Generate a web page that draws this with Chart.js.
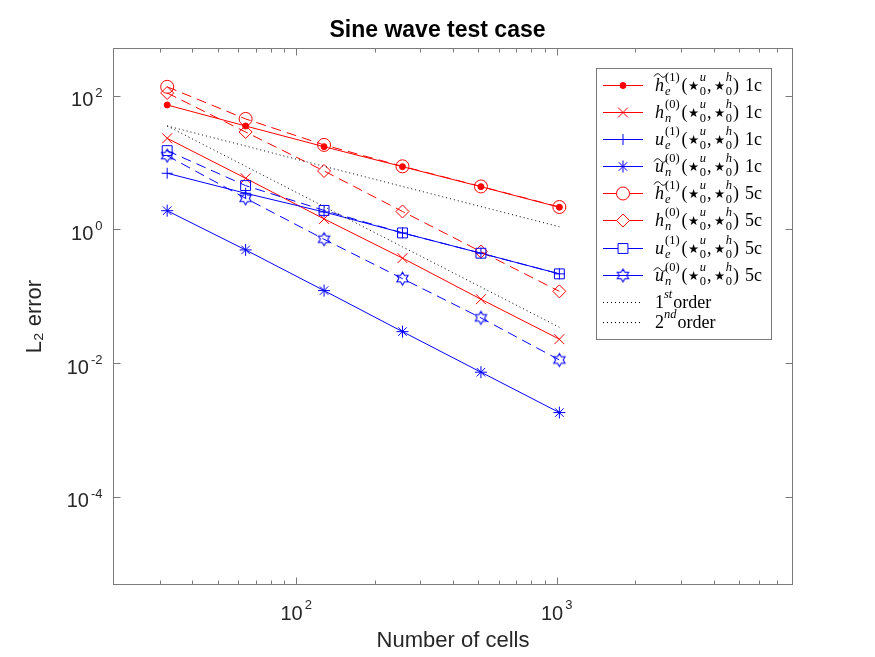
<!DOCTYPE html>
<html>
<head>
<meta charset="utf-8">
<title>Sine wave test case</title>
<script src="https://cdn.jsdelivr.net/npm/chart.js@4.4.0/dist/chart.umd.min.js"></script>
<style>
  html, body { margin: 0; padding: 0; background: #fff; }
</style>
</head>
<body>
<canvas id="graficoErro" width="875" height="657"></canvas>
<script>
// numero de celulas (eixo x)
var celulas = [32, 64, 128, 256, 512, 1024];

// erros L2
var hTilE1c = [72.8, 35.3, 17.3, 8.7, 4.37, 2.15];
var hN1c = [23.1, 5.84, 1.44, 0.373, 0.0907, 0.0229];
var uE1c = [6.93, 3.48, 1.83, 0.889, 0.442, 0.217];
var uTilN1c = [1.91, 0.495, 0.122, 0.0297, 0.00735, 0.00183];
var hTilE5c = [136, 45.0, 18.4, 8.8, 4.4, 2.17];
var hN5c = [110, 28.7, 7.5, 1.86, 0.467, 0.119];
var uE5c = [15.1, 4.53, 1.93, 0.889, 0.442, 0.217];
var uTilN5c = [12.7, 2.93, 0.715, 0.184, 0.0477, 0.0112];
var primeiraOrdem = [35.3, 17.7, 8.8, 4.4, 2.2, 1.1];
var segundaOrdem = [35.3, 8.8, 2.2, 0.55, 0.138, 0.0345];

// ticks e limites
var xTicks = [100, 1000];
var yTicks = [1e-4, 1e-2, 1, 100];
var xLimites = [20, 8000];
var yLimites = [5e-6, 500];

// descricao das legendas
var rotulos = [
  {base: 'h', til: true,  idx: 'e', ordem: '(1)', caso: '1c'},
  {base: 'h', til: false, idx: 'n', ordem: '(0)', caso: '1c'},
  {base: 'u', til: false, idx: 'e', ordem: '(1)', caso: '1c'},
  {base: 'u', til: true,  idx: 'n', ordem: '(0)', caso: '1c'},
  {base: 'h', til: true,  idx: 'e', ordem: '(1)', caso: '5c'},
  {base: 'h', til: false, idx: 'n', ordem: '(0)', caso: '5c'},
  {base: 'u', til: false, idx: 'e', ordem: '(1)', caso: '5c'},
  {base: 'u', til: true,  idx: 'n', ordem: '(0)', caso: '5c'},
  {num: '1', sup: 'st'},
  {num: '2', sup: 'nd'}
];

var VERMELHO = '#ff0000';
var AZUL = '#0000ff';
var EIXO = '#7a7a7a';
var SERIF = '"Liberation Serif", "DejaVu Serif", serif';
var SANS = '"Liberation Sans", Arial, Helvetica, sans-serif';

Chart.defaults.font.family = SANS;
Chart.defaults.color = '#262626';

function hexagrama(raio, cor) {
  var c = document.createElement('canvas');
  var tam = Math.ceil(raio * 2 + 4);
  c.width = tam;
  c.height = tam;
  var ctx = c.getContext('2d');
  var rIn = raio / Math.sqrt(3);
  ctx.beginPath();
  for (var i = 0; i < 12; i++) {
    var r = i % 2 === 0 ? raio : rIn;
    var a = -Math.PI / 2 + i * Math.PI / 6;
    var px = tam / 2 + r * Math.cos(a);
    var py = tam / 2 + r * Math.sin(a);
    if (i === 0) ctx.moveTo(px, py); else ctx.lineTo(px, py);
  }
  ctx.closePath();
  ctx.strokeStyle = cor;
  ctx.lineWidth = 1.1;
  ctx.stroke();
  return c;
}

function pontos(valores) {
  return celulas.map(function(c, i) { return {x: c, y: valores[i]}; });
}

function serie(valores, cor, estilo, raio, tracejado, fundo) {
  return {
    data: pontos(valores),
    borderColor: cor,
    borderWidth: 1,
    borderDash: tracejado,
    pointStyle: estilo,
    pointRadius: raio,
    pointHoverRadius: raio,
    pointBorderColor: cor,
    pointBorderWidth: 1,
    pointBackgroundColor: fundo || 'rgba(0,0,0,0)',
    tension: 0,
    fill: false
  };
}

var TRACO = [10, 6];
var PONTILHADO = [1, 3];
var estrela6 = hexagrama(6.5, AZUL);

var datasets = [
  serie(hTilE1c, VERMELHO, 'circle', 3, [], VERMELHO),
  serie(hN1c, VERMELHO, 'crossRot', 7, []),
  serie(uE1c, AZUL, 'cross', 5.5, []),
  serie(uTilN1c, AZUL, 'star', 6, []),
  serie(hTilE5c, VERMELHO, 'circle', 6.5, TRACO),
  serie(hN5c, VERMELHO, 'rectRot', 6.5, TRACO),
  serie(uE5c, AZUL, 'rect', 7, TRACO),
  serie(uTilN5c, AZUL, estrela6, 6, TRACO),
  serie(primeiraOrdem, '#000000', false, 0, PONTILHADO),
  serie(segundaOrdem, '#000000', false, 0, PONTILHADO)
];
// as ultimas series ficam por cima, como no original
datasets.forEach(function(d, i) { d.order = -i; });

// cores das amostras da legenda (guardadas a parte)
var coresLegenda = datasets.map(function(d) { return d.borderColor; });

// ---- texto com sobrescrito / subscrito da legenda ----
var TAM = 18;
var TAM_IDX = 12.5;

function fonteSerif(tam, italico) {
  return (italico ? 'italic ' : '') + tam + 'px ' + SERIF;
}

function tokensRotulo(r) {
  if (r.num) {
    return [
      {t: r.num},
      {sup: r.sup, supIt: true},
      {t: 'order', gap: 1}
    ];
  }
  return [
    {t: r.base, it: true, til: r.til},
    {sup: r.ordem, sub: r.idx, subIt: true, gap: 1},
    {t: '(', gap: 2},
    {estrela: true, gap: 0.5},
    {sup: 'u', supIt: true, sub: '0', gap: 0.5},
    {t: ',', gap: 1},
    {estrela: true, gap: 2.5},
    {sup: 'h', supIt: true, sub: '0', gap: 0.5},
    {t: ')', gap: 1},
    {t: r.caso, gap: 6}
  ];
}

function desenharTil(ctx, x, y, w) {
  ctx.beginPath();
  ctx.moveTo(x, y + 1);
  ctx.bezierCurveTo(x + w * 0.2, y - 2.5, x + w * 0.35, y - 2.5, x + w * 0.5, y);
  ctx.bezierCurveTo(x + w * 0.65, y + 2.5, x + w * 0.8, y + 2.5, x + w, y - 1);
  ctx.lineWidth = 1;
  ctx.stroke();
}

function desenharRico(ctx, tokens, x, y) {
  tokens.forEach(function(tk) {
    if (tk.gap) x += tk.gap;
    if (tk.estrela) {
      ctx.font = '12.5px "DejaVu Sans", sans-serif';
      ctx.fillText('\u2605', x, y - 1);
      x += ctx.measureText('\u2605').width;
    } else if (tk.t !== undefined) {
      ctx.font = fonteSerif(TAM, tk.it);
      ctx.fillText(tk.t, x, y);
      var w = ctx.measureText(tk.t).width;
      if (tk.til) desenharTil(ctx, x - 1, y - (tk.t === 'h' ? 15.5 : 11.5), w + 4);
      x += w;
    } else {
      var w1 = 0, w2 = 0;
      if (tk.sup) {
        ctx.font = fonteSerif(TAM_IDX, tk.supIt);
        ctx.fillText(tk.sup, x, y - 10);
        w1 = ctx.measureText(tk.sup).width;
      }
      if (tk.sub) {
        ctx.font = fonteSerif(TAM_IDX, tk.subIt);
        ctx.fillText(tk.sub, x, y + 4);
        w2 = ctx.measureText(tk.sub).width;
      }
      x += Math.max(w1, w2);
    }
  });
}

// ---- eixos no estilo matlab: caixa, ticks para dentro e rotulos 10^n ----
var eixosPlugin = {
  id: 'eixosMatlab',
  afterDatasetsDraw: function(chart) {
    var ctx = chart.ctx;
    var a = chart.chartArea;
    var sx = chart.scales.x;
    var sy = chart.scales.y;
    var L = Math.round(a.left) - 0.5;
    var R = Math.round(a.right) + 0.5;
    var T = Math.round(a.top) - 0.5;
    var B = Math.round(a.bottom) + 0.5;

    ctx.save();
    ctx.strokeStyle = EIXO;
    ctx.lineWidth = 1;
    ctx.setLineDash([]);
    ctx.strokeRect(L, T, R - L, B - T);

    function tickX(v, tam) {
      var px = Math.round(sx.getPixelForValue(v)) + 0.5;
      ctx.beginPath();
      ctx.moveTo(px, B); ctx.lineTo(px, B - tam);
      ctx.moveTo(px, T); ctx.lineTo(px, T + tam);
      ctx.stroke();
    }
    function tickY(v, tam) {
      var py = Math.round(sy.getPixelForValue(v)) + 0.5;
      ctx.beginPath();
      ctx.moveTo(L, py); ctx.lineTo(L + tam, py);
      ctx.moveTo(R, py); ctx.lineTo(R - tam, py);
      ctx.stroke();
    }

    for (var k = 1; k <= 3; k++) {
      for (var m = 2; m <= 9; m++) {
        var v = m * Math.pow(10, k);
        if (v > xLimites[0] && v < xLimites[1]) tickX(v, 4);
      }
    }
    xTicks.forEach(function(v) { tickX(v, 7); });
    yTicks.forEach(function(v) { tickY(v, 7); });

    // rotulos dos ticks
    ctx.fillStyle = '#262626';
    ctx.textBaseline = 'alphabetic';
    ctx.textAlign = 'left';
    var fBase = '20px ' + SANS;
    var fExp = '13px ' + SANS;

    xTicks.forEach(function(v) {
      var exp = String(Math.round(Math.log10(v)));
      ctx.font = fBase;
      var wb = ctx.measureText('10').width;
      ctx.font = fExp;
      var we = ctx.measureText(exp).width;
      var px = sx.getPixelForValue(v);
      var x0 = px - (wb + 2 + we) / 2;
      ctx.font = fBase;
      ctx.fillText('10', x0, B + 35);
      ctx.font = fExp;
      ctx.fillText(exp, x0 + wb + 2, B + 24);
    });

    yTicks.forEach(function(v) {
      var exp = String(Math.round(Math.log10(v)));
      ctx.font = fExp;
      var we = ctx.measureText(exp).width;
      ctx.font = fBase;
      var wb = ctx.measureText('10').width;
      var py = sy.getPixelForValue(v);
      var xr = L - 11;
      ctx.font = fExp;
      ctx.fillText(exp, xr - we, py + 1);
      ctx.font = fBase;
      ctx.fillText('10', xr - we - 2 - wb, py + 10.5);
    });
    ctx.restore();
  }
};

// ---- legenda desenhada a mao por causa das formulas ----
var legendaPlugin = {
  id: 'legendaFormulas',
  afterDraw: function(chart) {
    var ctx = chart.ctx;
    var caixa = {x: 596.5, y: 68.5, w: 175, h: 271};
    var linhas = [85, 112, 139, 166, 193, 220, 248, 275, 302, 322];
    var desenharPonto = Chart.helpers && Chart.helpers.drawPoint;

    ctx.save();
    ctx.fillStyle = '#ffffff';
    ctx.fillRect(caixa.x, caixa.y, caixa.w, caixa.h);
    ctx.strokeStyle = EIXO;
    ctx.lineWidth = 1;
    ctx.strokeRect(caixa.x, caixa.y, caixa.w, caixa.h);

    datasets.forEach(function(d, i) {
      var y = linhas[i];
      var cor = coresLegenda[i];
      // tracejado aparece continuo na amostra curta, so o pontilhado fica
      ctx.setLineDash(d.pointRadius > 0 ? [] : PONTILHADO);
      ctx.strokeStyle = cor;
      ctx.lineWidth = 1;
      ctx.beginPath();
      ctx.moveTo(603, y + 0.5);
      ctx.lineTo(643, y + 0.5);
      ctx.stroke();
      ctx.setLineDash([]);
      if (d.pointRadius > 0 && desenharPonto) {
        ctx.strokeStyle = cor;
        ctx.fillStyle = i === 0 ? cor : '#ffffff';
        desenharPonto(ctx, {pointStyle: d.pointStyle, rotation: 0, radius: d.pointRadius, borderWidth: 1}, 623, y + 0.5);
      }
      ctx.fillStyle = '#000000';
      ctx.strokeStyle = '#000000';
      ctx.textAlign = 'left';
      ctx.textBaseline = 'alphabetic';
      desenharRico(ctx, tokensRotulo(rotulos[i]), 655, y + 6);
    });
    ctx.restore();
  }
};

var ctx = document.getElementById('graficoErro').getContext('2d');

new Chart(ctx, {
  type: 'line',
  data: { datasets: datasets },
  options: {
    responsive: false,
    animation: false,
    events: [],
    layout: { padding: 0 },
    plugins: {
      legend: { display: false },
      tooltip: { enabled: false },
      title: {
        display: true,
        text: 'Sine wave test case',
        color: '#000000',
        font: { family: SANS, size: 23, weight: 'bold', lineHeight: 1.2 },
        padding: { top: 17, bottom: 4.4 }
      }
    },
    scales: {
      x: {
        type: 'logarithmic',
        position: 'bottom',
        min: xLimites[0],
        max: xLimites[1],
        grid: { display: false },
        border: { display: false },
        ticks: { display: false },
        title: {
          display: true,
          text: 'Number of cells',
          color: '#262626',
          font: { family: SANS, size: 22, lineHeight: 1.2 },
          padding: { top: 0, bottom: 3 }
        },
        afterFit: function(scale) { scale.height = 73; }
      },
      y: {
        type: 'logarithmic',
        position: 'left',
        min: yLimites[0],
        max: yLimites[1],
        grid: { display: false },
        border: { display: false },
        ticks: { display: false },
        title: {
          display: true,
          text: 'L\u2082 error',
          color: '#262626',
          font: { family: SANS, size: 22, lineHeight: 1.2 },
          padding: { top: 22, bottom: 0 }
        },
        afterFit: function(scale) { scale.width = 114; }
      },
      yDireita: {
        type: 'logarithmic',
        position: 'right',
        min: yLimites[0],
        max: yLimites[1],
        grid: { display: false },
        border: { display: false },
        ticks: { display: false },
        afterFit: function(scale) { scale.width = 83; }
      }
    }
  },
  plugins: [eixosPlugin, legendaPlugin]
});
</script>
</body>
</html>
